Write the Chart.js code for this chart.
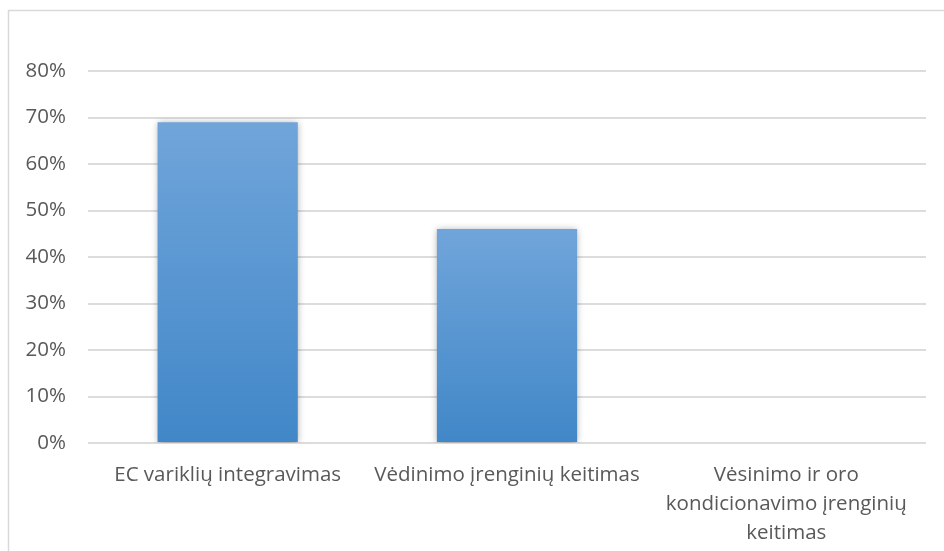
<!DOCTYPE html>
<html>
<head>
<meta charset="utf-8">
<script src="https://cdn.jsdelivr.net/npm/chart.js@4/dist/chart.umd.min.js"></script>
<style>
  html, body { margin: 0; padding: 0; background: #ffffff; }
  #wrap { position: relative; width: 944px; height: 551px; }
  canvas { display: block; }
</style>
</head>
<body>
<div id="wrap"><canvas id="chart" width="944" height="551"></canvas></div>
<script>
// Measures and their shares (percent)
const categories = [
  'EC variklių integravimas',
  'Vėdinimo įrenginių keitimas',
  ['Vėsinimo ir oro', 'kondicionavimo įrenginių', 'keitimas']
];
const shares = [69, 46, 0];
const yTicks = [0, 10, 20, 30, 40, 50, 60, 70, 80];

const textColor = '#595959';
const gridColor = '#dcdcdc';
const fontFamily = '"Open Sans", "Noto Sans", sans-serif';

// Vertical gradient fill per bar, lighter at the top
function barFill(ctx) {
  const chart = ctx.chart;
  const y = chart.scales && chart.scales.y;
  if (!y || !chart.chartArea) return '#5b97d2';
  const top = y.getPixelForValue(ctx.raw);
  const bottom = y.getPixelForValue(0);
  if (!isFinite(top) || bottom - top < 1) return '#5b97d2';
  const g = chart.ctx.createLinearGradient(0, top, 0, bottom);
  g.addColorStop(0, '#70a5da');
  g.addColorStop(1, '#4187c8');
  return g;
}

// Soft drop shadow under the bars
const barShadow = {
  id: 'barShadow',
  beforeDatasetsDraw(chart) {
    const c = chart.ctx;
    c.save();
    c.shadowColor = 'rgba(0,0,0,0.35)';
    c.shadowBlur = 7;
    c.shadowOffsetX = 0;
    c.shadowOffsetY = 1;
  },
  afterDatasetsDraw(chart) {
    chart.ctx.restore();
  }
};

// Outer frame of the chart (left and top edges)
const frame = {
  id: 'frame',
  beforeDraw(chart) {
    const c = chart.ctx;
    c.save();
    c.strokeStyle = '#d9d9d9';
    c.lineWidth = 1.5;
    c.beginPath();
    c.moveTo(8.5, chart.height);
    c.lineTo(8.5, 10.5);
    c.lineTo(chart.width, 10.5);
    c.stroke();
    c.restore();
  }
};

new Chart(document.getElementById('chart'), {
  type: 'bar',
  data: {
    labels: categories,
    datasets: [{
      data: shares,
      backgroundColor: barFill,
      borderWidth: 0,
      categoryPercentage: 1,
      barPercentage: 0.502
    }]
  },
  options: {
    responsive: false,
    animation: false,
    devicePixelRatio: 1,
    layout: { padding: { top: 71, right: 18, bottom: 0, left: 0 } },
    plugins: {
      legend: { display: false },
      tooltip: { enabled: false }
    },
    scales: {
      x: {
        grid: { display: false, drawTicks: false },
        border: { display: false },
        ticks: {
          color: textColor,
          padding: 18,
          maxRotation: 0,
          autoSkip: false,
          font: { family: fontFamily, size: 20.5, lineHeight: 1.4 }
        },
        afterFit(scale) { scale.height = 108; }
      },
      y: {
        min: 0,
        max: 80,
        afterBuildTicks(scale) { scale.ticks = yTicks.map(v => ({ value: v })); },
        grid: { color: gridColor, lineWidth: 2, drawTicks: false },
        border: { display: false },
        ticks: {
          color: textColor,
          padding: 22,
          font: { family: fontFamily, size: 20.5 },
          callback: v => v + '%'
        },
        afterFit(scale) { scale.width = 88; }
      }
    }
  },
  plugins: [frame, barShadow]
});
</script>
</body>
</html>
